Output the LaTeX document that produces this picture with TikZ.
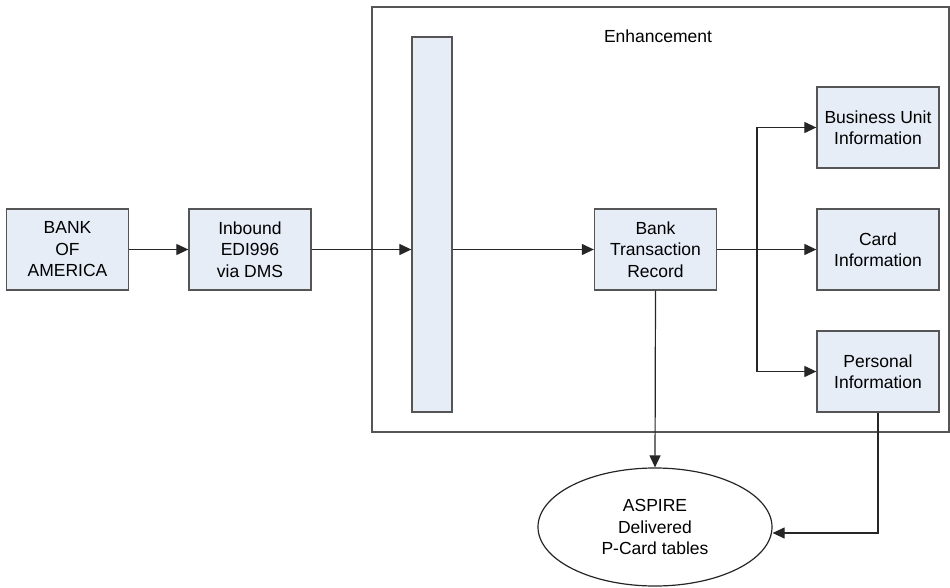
\documentclass[tikz,border=0pt]{standalone}
\usepackage{fontspec}
\setmainfont{Liberation Sans}
\usetikzlibrary{arrows.meta,shapes.geometric}
\definecolor{boxfill}{RGB}{230,237,247}
\definecolor{boxline}{RGB}{85,85,85}
\tikzset{
  stagebox/.style={draw=boxline,line width=1.3pt,fill=boxfill,align=center,
    minimum width=122pt,minimum height=81pt,inner sep=0pt,
    font=\fontsize{17.5}{21.5}\selectfont},
  flow/.style={draw=black!85,line width=1.2pt,-{Triangle[length=12pt,width=11pt]}}
}
\begin{document}
\begin{tikzpicture}[x=1pt,y=-1pt]
        \useasboundingbox (0,0) rectangle (950,588);

        % enhancement frame
        \draw[boxline,line width=1.2pt] (372,7) rectangle (949,432);
        \node[font=\fontsize{17.5}{21.5}\selectfont] (enh) at (658,36) {Enhancement};

        \node[stagebox] (boa)  at (67.5,249.5)  {BANK\\OF\\AMERICA};
        \node[stagebox] (edi)  at (250,249.5)   {Inbound\\EDI996\\via DMS};
        \node[stagebox,minimum width=40pt,minimum height=375pt] (bar) at (432,224.5) {};
        \node[stagebox] (btr)  at (655.5,249.5) {Bank\\Transaction\\Record};
        \node[stagebox] (biz)  at (878,127.5)   {Business Unit\\Information};
        \node[stagebox] (card) at (878,249.5)   {Card\\Information};
        \node[stagebox] (pers) at (878,371.5)   {Personal\\Information};
        \node[ellipse,draw=black!85,line width=1.2pt,minimum width=234pt,minimum height=118pt,
              align=center,font=\fontsize{17.5}{21.5}\selectfont] (aspire) at (655,527)
              {ASPIRE\\Delivered\\P-Card tables};

        \coordinate (split) at (757,249.5);

        \draw[flow] (boa) -- (edi);
        \draw[flow] (edi) -- (edi -| bar.west);
        \draw[flow] (btr -| bar.east) -- (btr);
        \draw[flow] (btr) -- (card);
        \draw[flow] (split) |- (biz.west);
        \draw[flow] (split) |- (pers.west);
        \draw[flow] (btr.south) -- (aspire.north);
        \draw[flow] (pers.south) |- ([yshift=-6pt]aspire.east);
\end{tikzpicture}
\end{document}
